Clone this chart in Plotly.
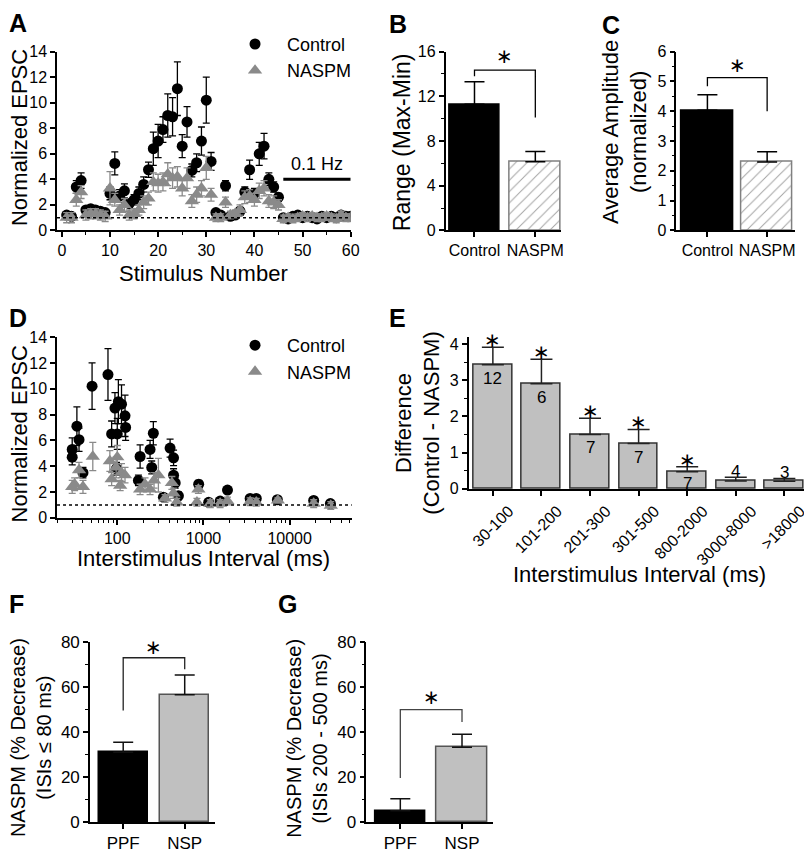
import plotly.graph_objects as go

# The page shows the figure with an 8 px body margin and a ~0.99 scale; reference pixel
# positions are mapped into figure pixels with that in mind.
OFF = 8
SCALE = 0.99
W, H = 812, 855
FONT = "Liberation Sans, Arial, sans-serif"
BLACK = "#000000"
GRAY_MK = "#8a8a8a"
GRAY_BAR = "#c0c0c0"

# ---------------- Panel A: EPSC vs stimulus number ----------------
stim_number = list(range(1, 61))
a_control = [1.2, 1.1, 3.4, 3.9, 1.6, 1.7, 1.6, 1.5, 1.4, 2.9,
             5.25, 2.7, 3.1, 2.1, 2.4, 2.9, 3.6, 4.75, 6.4, 7.0,
             7.9, 9.0, 8.9, 11.1, 6.6, 8.5, 4.7, 5.3, 7.0, 10.2,
             5.4, 1.4, 1.2, 3.5, 1.1, 1.2, 1.5, 3.0, 4.75, 2.9,
             6.0, 6.6, 4.0, 3.4, 2.6, 1.0, 0.9, 1.1, 1.2, 1.0,
             1.1, 1.0, 0.9, 1.1, 1.0, 1.1, 1.0, 1.2, 1.1, 1.1]
a_control_sem = [0.15, 0.15, 0.5, 0.6, 0.2, 0.2, 0.2, 0.2, 0.2, 0.5,
                 0.9, 0.5, 0.55, 0.3, 0.4, 0.5, 0.6, 0.6, 1.3, 1.3,
                 1.0, 1.7, 1.5, 2.1, 0.9, 1.2, 0.5, 0.7, 1.1, 1.8,
                 0.7, 0.2, 0.2, 0.4, 0.2, 0.2, 0.3, 0.4, 0.75, 0.4,
                 0.9, 1.0, 0.5, 0.4, 0.3, 0.15, 0.1, 0.15, 0.1, 0.15,
                 0.1, 0.15, 0.1, 0.15, 0.1, 0.15, 0.1, 0.15, 0.1, 0.15]
a_naspm = [1.0, 1.0, 2.4, 3.0, 1.2, 1.3, 1.3, 1.2, 1.1, 3.3,
           2.4, 1.6, 2.0, 1.2, 1.3, 1.6, 2.2, 2.5, 3.8, 3.7,
           3.8, 4.4, 4.1, 4.2, 3.3, 4.1, 2.3, 2.8, 3.3, 4.9,
           2.8, 1.0, 1.0, 2.2, 1.2, 1.3, 1.6, 2.6, 2.7, 2.4,
           3.1, 3.3, 2.3, 2.2, 2.0, 0.9, 1.0, 0.9, 1.0, 1.1,
           1.0, 1.1, 1.0, 1.0, 1.1, 1.0, 0.9, 1.2, 1.0, 1.0]
a_naspm_sem = [0.4, 0.4, 0.5, 0.5, 0.4, 0.4, 0.4, 0.4, 0.4, 1.3,
               0.5, 0.4, 0.5, 0.4, 0.4, 0.4, 0.5, 0.5, 0.7, 0.7,
               0.7, 0.9, 0.8, 0.8, 0.6, 0.8, 0.5, 0.6, 0.6, 0.9,
               0.5, 0.3, 0.3, 0.4, 0.3, 0.3, 0.4, 0.5, 0.5, 0.5,
               0.6, 0.6, 0.5, 0.5, 0.4, 0.3, 0.3, 0.3, 0.3, 0.3,
               0.3, 0.3, 0.3, 0.3, 0.3, 0.3, 0.3, 0.3, 0.3, 0.3]

# ---------------- Panel B / C ----------------
bc_groups = ["Control", "NASPM"]
b_range = [11.3, 6.15]
b_sem = [2.0, 0.92]
c_avg = [4.03, 2.3]
c_sem = [0.52, 0.34]

# ---------------- Panel D: EPSC vs ISI ----------------
d_control_isi = [30, 30, 34, 36, 40, 51, 78, 86, 94, 98, 100, 103, 112, 123, 125,
                 176, 184, 240, 251, 262, 343, 410, 450, 450, 470, 512,
                 880, 1150, 1560, 1900, 3480, 4100, 7200, 19000, 29700]
d_control = [5.3, 4.7, 7.1, 6.05, 3.5, 10.2, 11.1, 6.5, 8.5, 3.8, 6.5, 9.0, 8.8, 7.9, 7.0,
             2.9, 4.75, 5.3, 3.9, 6.55, 1.6, 5.4, 4.65, 3.3, 2.7, 1.7,
             2.6, 1.2, 1.3, 2.15, 1.5, 1.5, 1.4, 1.35, 1.1]
d_control_sem = [0.9, 0.6, 1.5, 0.9, 0.4, 1.8, 2.0, 1.0, 1.2, 0.5, 1.2, 1.7, 1.5, 1.6, 1.0,
                 0.4, 0.9, 0.7, 0.5, 0.9, 0.2, 0.7, 0.6, 0.5, 0.4, 0.3,
                 0.3, 0.15, 0.15, 0.2, 0.1, 0.1, 0.1, 0.1, 0.1]
d_naspm_isi = [30, 32, 36, 40, 52, 82, 86, 97, 100, 108, 112, 123,
               184, 210, 240, 267, 300, 358, 430, 448, 490,
               840, 873, 1200, 1560, 1900, 3480, 4100, 7300, 19000, 30000]
d_naspm = [2.4, 2.6, 3.7, 2.4, 4.75, 4.4, 3.0, 3.9, 4.7, 2.5, 3.5, 3.3,
           2.2, 2.6, 2.2, 2.9, 3.3, 1.5, 2.7, 1.9, 1.2,
           1.2, 2.2, 1.1, 1.1, 1.3, 1.25, 1.2, 1.35, 1.1, 0.95]
d_naspm_sem = [0.5, 0.5, 0.6, 0.5, 1.1, 0.8, 0.5, 0.8, 0.9, 0.4, 0.7, 0.6,
               0.4, 0.5, 0.4, 0.6, 1.3, 0.3, 0.5, 0.4, 0.3,
               0.3, 0.3, 0.3, 0.3, 0.3, 0.3, 0.3, 0.2, 0.3, 0.3]

# ---------------- Panel E ----------------
e_categories = ["30-100", "101-200", "201-300", "301-500", "800-2000", "3000-8000", ">18000"]
e_diff = [3.43, 2.9, 1.5, 1.25, 0.47, 0.22, 0.21]
e_sem = [0.48, 0.68, 0.45, 0.39, 0.14, 0.10, 0.08]
e_n = [12, 6, 7, 7, 7, 4, 3]
e_significant = [True, True, True, True, True, False, False]

# ---------------- Panel F / G ----------------
fg_groups = ["PPF", "NSP"]
f_decrease = [31.1, 56.6]
f_sem = [4.4, 8.7]
g_decrease = [5.1, 33.3]
g_sem = [5.4, 5.8]


def px(x):
    return (x / SCALE - OFF) / W


def py(y):
    return 1 - (y / SCALE - OFF) / H


fig = go.Figure()

CIRCLE = dict(symbol="circle", size=11, color=BLACK)
TRI = dict(symbol="triangle-up", size=12.5, color=GRAY_MK)
NB = "\u00a0"

# ---- A ----
fig.add_trace(go.Scatter(x=stim_number, y=a_control, mode="markers", name=NB + "Control", marker=CIRCLE,
                         error_y=dict(type="data", array=a_control_sem, color=BLACK, thickness=1.3, width=3.5),
                         xaxis="x", yaxis="y", legend="legend"))
fig.add_trace(go.Scatter(x=stim_number, y=a_naspm, mode="markers", name=NB + "NASPM", marker=TRI,
                         error_y=dict(type="data", array=a_naspm_sem, color=GRAY_MK, thickness=1.3, width=3.5),
                         xaxis="x", yaxis="y", legend="legend"))

# ---- B ----
fig.add_trace(go.Bar(x=bc_groups, y=b_range, width=0.83, showlegend=False,
                     marker=dict(color=[BLACK, "white"], line=dict(color=[BLACK, "#808080"], width=1.5),
                                 pattern=dict(shape=["", "/"], fgcolor="#a8a8a8", size=8, solidity=0.12)),
                     error_y=dict(type="data", array=b_sem, arrayminus=[0, 0], symmetric=False,
                                  color=BLACK, thickness=1.5, width=10),
                     xaxis="x2", yaxis="y2"))
# ---- C ----
fig.add_trace(go.Bar(x=bc_groups, y=c_avg, width=0.86, showlegend=False,
                     marker=dict(color=[BLACK, "white"], line=dict(color=[BLACK, "#808080"], width=1.5),
                                 pattern=dict(shape=["", "/"], fgcolor="#a8a8a8", size=8, solidity=0.12)),
                     error_y=dict(type="data", array=c_sem, arrayminus=[0, 0], symmetric=False,
                                  color=BLACK, thickness=1.5, width=10),
                     xaxis="x3", yaxis="y3"))

# ---- D ----
fig.add_trace(go.Scatter(x=d_control_isi, y=d_control, mode="markers", name=NB + "Control", marker=CIRCLE,
                         error_y=dict(type="data", array=d_control_sem, color=BLACK, thickness=1.3, width=3.5),
                         xaxis="x4", yaxis="y4", legend="legend2"))
fig.add_trace(go.Scatter(x=d_naspm_isi, y=d_naspm, mode="markers", name=NB + "NASPM", marker=TRI,
                         error_y=dict(type="data", array=d_naspm_sem, color=GRAY_MK, thickness=1.3, width=3.5),
                         xaxis="x4", yaxis="y4", legend="legend2"))

# ---- E ----
fig.add_trace(go.Bar(x=e_categories, y=e_diff, width=0.8, showlegend=False,
                     marker=dict(color=GRAY_BAR, line=dict(color="#333333", width=1.5)),
                     error_y=dict(type="data", array=e_sem, arrayminus=[0] * len(e_sem), symmetric=False,
                                  color="#222222", thickness=1.5, width=11),
                     xaxis="x5", yaxis="y5"))

# ---- F ----
fig.add_trace(go.Bar(x=fg_groups, y=f_decrease, width=0.8, showlegend=False,
                     marker=dict(color=[BLACK, GRAY_BAR], line=dict(color=[BLACK, "#555555"], width=1.5)),
                     error_y=dict(type="data", array=f_sem, arrayminus=[0, 0], symmetric=False,
                                  color="#111111", thickness=1.5, width=10),
                     xaxis="x6", yaxis="y6"))
# ---- G ----
fig.add_trace(go.Bar(x=fg_groups, y=g_decrease, width=0.82, showlegend=False,
                     marker=dict(color=[BLACK, GRAY_BAR], line=dict(color=[BLACK, "#555555"], width=1.5)),
                     error_y=dict(type="data", array=g_sem, arrayminus=[0, 0], symmetric=False,
                                  color="#111111", thickness=1.5, width=10),
                     xaxis="x7", yaxis="y7"))

axis_base = dict(showline=True, linecolor=BLACK, linewidth=1.5, ticks="outside",
                 ticklen=5, tickwidth=1.5, tickcolor=BLACK, showgrid=False, zeroline=False,
                 tickfont=dict(size=16, color=BLACK, family=FONT), fixedrange=True)


def ax(x0, x1, anchor, **kw):
    d = dict(axis_base)
    d.update(domain=[x0, x1], anchor=anchor)
    d.update(kw)
    return d


minor_base = dict(ticklen=3, tickwidth=1.2, tickcolor=BLACK, ticks="outside")
log_minor = [v * m for m in (10, 100, 1000, 10000) for v in range(2, 10)]
fg_font = dict(size=17, color=BLACK, family=FONT)
leg_common = dict(xanchor="left", yanchor="top", font=dict(size=18, family=FONT),
                  bgcolor="rgba(0,0,0,0)", itemsizing="trace", tracegroupgap=0, itemwidth=44)

fig.update_layout(
    width=W, height=H, autosize=False,
    margin=dict(l=0, r=0, t=0, b=0),
    paper_bgcolor="white", plot_bgcolor="white",
    font=dict(family=FONT, color=BLACK, size=16),
    bargap=0,
    # A
    xaxis=ax(px(57), px(351), "y", range=[-1, 60], tickmode="array", tickvals=[0, 10, 20, 30, 40, 50, 60],
             minor=dict(minor_base, dtick=5, tick0=0)),
    yaxis=ax(py(224), py(43), "x", range=[0, 14], dtick=2),
    # B
    xaxis2=ax(px(446), px(562), "y2", type="category", range=[-0.475, 1.43]),
    yaxis2=ax(py(224), py(43), "x2", range=[0, 16], dtick=4, minor=dict(minor_base, dtick=2)),
    # C
    xaxis3=ax(px(677), px(796), "y3", type="category", range=[-0.52, 1.47]),
    yaxis3=ax(py(224), py(43), "x3", range=[0, 6], dtick=1, minor=dict(minor_base, dtick=0.5)),
    # D
    xaxis4=ax(px(57), px(352), "y4", type="log", range=[1.301, 4.72],
              tickmode="array", tickvals=[100, 1000, 10000], ticktext=["100", "1000", "10000"],
              minor=dict(minor_base, tickmode="array", tickvals=log_minor)),
    yaxis4=ax(py(515), py(332), "x4", range=[0, 14], dtick=2),
    # E
    xaxis5=ax(px(469), px(807), "y5", type="category", range=[-0.5, 6.45], tickangle=-45,
              ticklabelshift=16),
    yaxis5=ax(py(485.7), py(331.7), "x5", range=[0, 4.2], dtick=1, minor=dict(minor_base, dtick=0.5)),
    # F
    xaxis6=ax(px(90), px(215), "y6", type="category", range=[-0.54, 1.49], tickfont=fg_font),
    yaxis6=ax(py(823.3), py(640.7), "x6", range=[0, 80], dtick=20, minor=dict(minor_base, dtick=10),
              tickfont=fg_font),
    # G
    xaxis7=ax(px(366.7), px(493.3), "y7", type="category", range=[-0.55, 1.5], tickfont=fg_font),
    yaxis7=ax(py(823.3), py(640.7), "x7", range=[0, 80], dtick=20, minor=dict(minor_base, dtick=10),
              tickfont=fg_font),
    # legend boxes (figure-pixel placement found by trial)
    legend=dict(leg_common, x=222.5 / W, y=1 - 9 / H),
    legend2=dict(leg_common, x=222.5 / W, y=1 - 317 / H),
)

shapes = []
# dotted baseline at 1 in A and D
for xr, yr in (("x", "y"), ("x4", "y4")):
    shapes.append(dict(type="line", xref=xr + " domain", yref=yr, x0=0, x1=1, y0=1, y1=1,
                       line=dict(color=BLACK, width=1.5, dash="dot")))
# 0.1 Hz bar
shapes.append(dict(type="line", xref="x", yref="y", x0=46, x1=60, y0=4, y1=4,
                   line=dict(color=BLACK, width=3)))


def bracket(xr, yr, y_left, y_top, y_right, color):
    return dict(type="path", xref=xr, yref=yr,
                path=f"M 0,{y_left} L 0,{y_top} L 1,{y_top} L 1,{y_right}",
                line=dict(color=color, width=1.3))


# categorical x: 0 and 1 are the two categories
shapes.append(bracket("x2", "y2", 13.8, 14.35, 10.1, BLACK))
shapes.append(bracket("x3", "y3", 4.84, 5.13, 4.0, BLACK))
shapes.append(bracket("x6", "y6", 49.6, 73, 67.9, "#222222"))
shapes.append(bracket("x7", "y7", 19.7, 50, 44.5, "#444444"))
fig.update_layout(shapes=shapes)

STAR = "\u2217"
ann = []


def label(text, x, y, size=24, bold=True, angle=0, half=0, edge=0):
    xp = px(x)
    left = xp * W - half < 0
    ann.append(dict(text=f"<b>{text}</b>" if bold else text, x=edge / W if left else xp, y=py(y),
                    xref="paper", yref="paper", showarrow=False,
                    xanchor="left" if left else "center", yanchor="middle", textangle=angle,
                    font=dict(size=size, family=FONT, color=BLACK)))


# panel letters
for t, x, y in (("A", 10, 14), ("B", 398, 15), ("C", 612, 16), ("D", 10, 313), ("E", 398, 313),
                ("F", 9, 602), ("G", 288, 602)):
    label(t, x, y, size=25, half=10, edge=-1)

# axis titles
label("Normalized EPSC", 11, 130, size=22, bold=False, angle=-90, half=13, edge=-3)
label("Stimulus Number", 204, 268, size=22, bold=False)
label("Range (Max-Min)", 402, 135, size=23, bold=False, angle=-90)
label("Average Amplitude<br>(normalized)", 625, 124, size=22, bold=False, angle=-90)
label("Normalized EPSC", 11, 430, size=22, bold=False, angle=-90, half=13, edge=-3)
label("Interstimulus Interval (ms)", 204, 556, size=22, bold=False)
label("Difference<br>(Control - NASPM)", 418, 419, size=22, bold=False, angle=-90)
label("Interstimulus Interval (ms)", 640, 572, size=22, bold=False)
label("NASPM (% Decrease)<br>(ISIs \u2264 80 ms)", 29.5, 738, size=20, bold=False, angle=-90, half=26, edge=-3)
label("NASPM (% Decrease)<br>(ISIs 200 - 500 ms)", 307, 738, size=20, bold=False, angle=-90)

# 0.1 Hz
ann.append(dict(text="0.1 Hz", x=53, y=4, xref="x", yref="y", showarrow=False, yanchor="bottom",
                yshift=3, font=dict(size=18, family=FONT, color=BLACK)))


def star(xr, yr, x, y, size=20):
    ann.append(dict(text=STAR, x=x, y=y, xref=xr, yref=yr, showarrow=False, xanchor="center",
                    yanchor="middle", font=dict(size=size, family="DejaVu Sans", color=BLACK)))


star("x2", "y2", 0.5, 15.6)
star("x3", "y3", 0.5, 5.55)
star("x6", "y6", 0.5, 77.7)
star("x7", "y7", 0.5, 55.5)

for i, cat in enumerate(e_categories):
    top = e_diff[i] + e_sem[i]
    if e_significant[i]:
        star("x5", "y5", cat, top + 0.2)
        ny = max(e_diff[i] - 0.37, 0.15)
    else:
        ny = top + 0.16
    ann.append(dict(text=str(e_n[i]), x=cat, y=ny, xref="x5", yref="y5", showarrow=False,
                    xanchor="center", yanchor="middle", font=dict(size=17, family=FONT, color=BLACK)))

fig.update_layout(annotations=ann)

fig.write_html("out.html")
